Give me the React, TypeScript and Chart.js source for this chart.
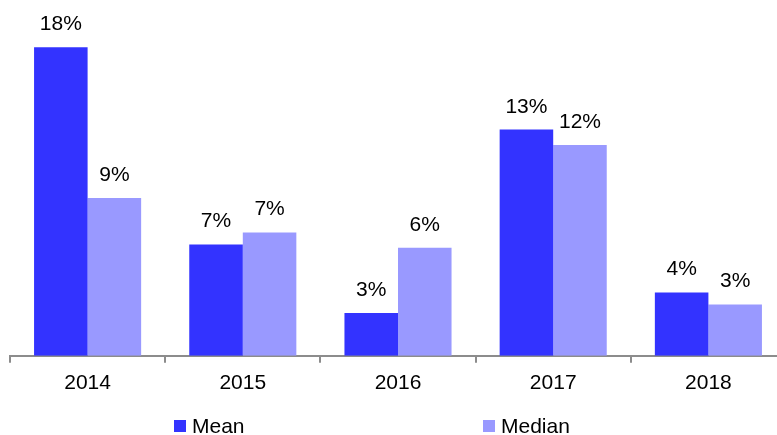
import React, { useEffect, useRef } from "react";
import { Chart, registerables } from "chart.js";

Chart.register(...registerables);

const categories = ["2014", "2015", "2016", "2017", "2018"];
const meanValues = [18.0, 6.5, 2.5, 13.2, 3.7];
const medianValues = [9.2, 7.2, 6.3, 12.3, 3.0];
const meanLabels = ["18%", "7%", "3%", "13%", "4%"];
const medianLabels = ["9%", "7%", "6%", "12%", "3%"];
const seriesNames = ["Mean", "Median"];
const seriesColors = ["#3333ff", "#9999ff"];

const FONT = "'Liberation Sans', Arial, Helvetica, sans-serif";

const valueLabelPlugin = {
  id: "valueLabels",
  afterDatasetsDraw(chart: any) {
    const ctx = chart.ctx;
    const labelSets = [meanLabels, medianLabels];
    ctx.save();
    ctx.fillStyle = "#000";
    ctx.font = `21px ${FONT}`;
    ctx.textAlign = "center";
    ctx.textBaseline = "alphabetic";
    chart.data.datasets.forEach((_: any, di: number) => {
      const meta = chart.getDatasetMeta(di);
      meta.data.forEach((bar: any, i: number) => {
        ctx.fillText(labelSets[di][i], bar.x, bar.y - 17);
      });
    });
    ctx.restore();
  },
};

const legendPlugin = {
  id: "customLegend",
  afterDraw(chart: any) {
    const ctx = chart.ctx;
    const xs = [174, 483];
    ctx.save();
    ctx.font = `21px ${FONT}`;
    ctx.textBaseline = "alphabetic";
    ctx.textAlign = "left";
    seriesNames.forEach((name, i) => {
      ctx.fillStyle = seriesColors[i];
      ctx.fillRect(xs[i], 420, 12, 12);
      ctx.fillStyle = "#000";
      ctx.fillText(name, xs[i] + 18, 433);
    });
    ctx.restore();
  },
};

export default function App() {
  const ref = useRef<HTMLCanvasElement>(null);
  useEffect(() => {
    if (!ref.current) return;
    const chart = new Chart(ref.current, {
      type: "bar",
      data: {
        labels: categories,
        datasets: [
          {
            label: seriesNames[0],
            data: meanValues,
            backgroundColor: seriesColors[0],
            categoryPercentage: 0.69,
            barPercentage: 1,
          },
          {
            label: seriesNames[1],
            data: medianValues,
            backgroundColor: seriesColors[1],
            categoryPercentage: 0.69,
            barPercentage: 1,
          },
        ],
      },
      options: {
        responsive: false,
        animation: false,
        devicePixelRatio: 1,
        layout: { padding: { left: 10, right: 14, top: 13, bottom: 31 } },
        plugins: { legend: { display: false }, tooltip: { enabled: false } },
        scales: {
          x: {
            offset: true,
            grid: {
              display: true,
              offset: true,
              drawOnChartArea: false,
              drawTicks: true,
              tickLength: 7,
              color: "#8c8c8c",
              lineWidth: 2,
            },
            border: { display: true, color: "#8c8c8c", width: 2 },
            ticks: { color: "#000", font: { family: FONT, size: 21 }, padding: 8 },
          },
          y: { display: false, min: 0, max: 20 },
        },
      },
      plugins: [valueLabelPlugin, legendPlugin],
    });
    return () => chart.destroy();
  }, []);
  return (
    <div
      style={{
        position: "fixed",
        left: 0,
        top: 0,
        width: 777,
        height: 435,
        overflow: "hidden",
        background: "#fff",
      }}
    >
      <canvas ref={ref} width={800} height={435} style={{ width: 800, height: 435 }} />
    </div>
  );
}
